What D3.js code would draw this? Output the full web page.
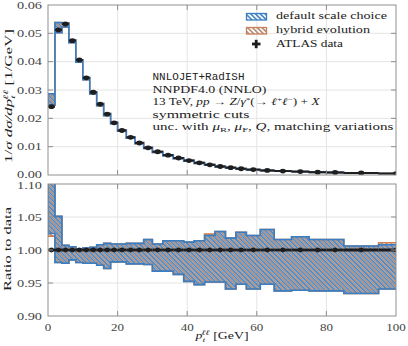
<!DOCTYPE html>
<html>
<head>
<meta charset="utf-8">
<script src="https://cdn.jsdelivr.net/npm/d3@7"></script>
<style>
  body { margin: 0; background: #fff; }
  svg { display: block; }
</style>
</head>
<body>
<svg id="chart"></svg>
<script>
// pT bins (GeV), ATLAS 13 TeV binning
const binLo = [0, 2, 4, 6, 8, 10, 12, 14, 16, 18, 20, 22.5, 25, 27.5, 30, 33, 36, 39, 42, 45, 48, 51, 54, 57, 61, 65, 70, 75, 80, 85, 95];
const binHi = [2, 4, 6, 8, 10, 12, 14, 16, 18, 20, 22.5, 25, 27.5, 30, 33, 36, 39, 42, 45, 48, 51, 54, 57, 61, 65, 70, 75, 80, 85, 95, 105];

// normalised ATLAS data, 1/sigma dsigma/dpT
const atlasData = [0.0241, 0.0512, 0.0533, 0.0474, 0.0406, 0.0343, 0.0292, 0.0250, 0.0215, 0.0184,
  0.0157, 0.0133, 0.0113, 0.0096, 0.0082, 0.0070, 0.0060, 0.0051, 0.0043, 0.0036,
  0.0030, 0.0026, 0.0022, 0.0019, 0.0016, 0.0014, 0.0012, 0.0010, 0.0009, 0.0007, 0.0005];

// ratio to data: default scale choice band
const scaleUp = [1.19, 1.051, 1.007, 1.005, 1.002, 1.003, 1.004, 1.008, 1.010, 1.009,
  1.009, 1.010, 1.010, 1.016, 1.009, 1.014, 1.014, 1.012, 1.014, 1.022,
  1.028, 1.018, 1.027, 1.022, 1.031, 1.016, 1.020, 1.016, 1.016, 1.006, 1.008];
const scaleDown = [1.025, 0.981, 0.980, 0.985, 0.981, 0.980, 0.980, 0.977, 0.972, 0.982,
  0.982, 0.979, 0.979, 0.978, 0.968, 0.968, 0.963, 0.9525, 0.9475, 0.9515,
  0.9515, 0.941, 0.948, 0.941, 0.948, 0.938, 0.939, 0.938, 0.938, 0.934, 0.941];

// ratio to data: hybrid evolution band
const hybridUp = [1.19, 1.051, 1.007, 1.005, 1.002, 1.003, 1.004, 1.008, 1.010, 1.009,
  1.009, 1.010, 1.010, 1.016, 1.009, 1.014, 1.014, 1.012, 1.014, 1.024,
  1.028, 1.018, 1.027, 1.022, 1.031, 1.016, 1.020, 1.016, 1.016, 1.006, 1.011];
const hybridDown = [1.021, 0.981, 0.980, 0.985, 0.981, 0.980, 0.980, 0.977, 0.972, 0.982,
  0.982, 0.979, 0.979, 0.978, 0.968, 0.968, 0.963, 0.9525, 0.9475, 0.9515,
  0.9515, 0.941, 0.948, 0.941, 0.948, 0.938, 0.939, 0.938, 0.938, 0.934, 0.941];

const xTicks = [0, 20, 40, 60, 80, 100];
const yTicksTop = [0, 0.01, 0.02, 0.03, 0.04, 0.05, 0.06];
const yTicksRatio = [0.90, 0.95, 1.00, 1.05, 1.10];

const width = 408, height = 346;
const blue = "#3a7dc0", orange = "#c98058", frameCol = "#8f8f8f", gridCol = "#e4e4e4";
const serif = "Liberation Serif";

const svg = d3.select("#chart").attr("width", width).attr("height", height);

const x = d3.scaleLinear().domain([0, 100]).range([48, 396]);
const yTop = d3.scaleLinear().domain([0, 0.06]).range([175, 5]);
const yRat = d3.scaleLinear().domain([0.90, 1.10]).range([316, 184]);

const defs = svg.append("defs");

function hatch(id, color, off, w) {
  const p = defs.append("pattern")
    .attr("id", id)
    .attr("patternUnits", "userSpaceOnUse")
    .attr("width", 3.4).attr("height", 3.4)
    .attr("patternTransform", "rotate(-45)");
  p.append("line")
    .attr("x1", off).attr("x2", off).attr("y1", 0).attr("y2", 3.4)
    .attr("stroke", color).attr("stroke-width", w);
}
hatch("hatchBlue", "#4f8bc6", 0.85, 1.75);
hatch("hatchOrange", "#b9917c", 2.55, 1.75);

function clip(id, yScale) {
  defs.append("clipPath").attr("id", id)
    .append("rect")
    .attr("x", x(0)).attr("y", yScale.range()[1])
    .attr("width", x(100) - x(0))
    .attr("height", yScale.range()[0] - yScale.range()[1]);
}
clip("clipTop", yTop);
clip("clipRat", yRat);

// text with optional italic/sub/sup pieces
function richText(g, px, py, parts, o) {
  const t = g.append("text")
    .attr("x", px).attr("y", py)
    .attr("font-family", o.family || serif)
    .attr("font-size", o.size || 10)
    .attr("fill", o.fill || "#222")
    .attr("text-anchor", o.anchor || "start");
  parts.forEach(p => {
    const s = t.append("tspan").text(p.t);
    if (p.it) s.attr("font-style", "italic");
    if (p.fs) s.attr("font-size", p.fs);
    if (p.dx) s.attr("dx", p.dx);
    if (p.dy) s.attr("dy", p.dy);
  });
  if (o.len) t.attr("textLength", o.len).attr("lengthAdjust", "spacingAndGlyphs");
  return t;
}

// shift keeps "0.00" and "1.10" apart where the panels meet
function drawPanel(yScale, yTicks, fmt, shift) {
  const g = svg.append("g");
  // grid
  g.selectAll(".gx").data(xTicks.slice(1, -1)).enter().append("line")
    .attr("x1", d => x(d)).attr("x2", d => x(d))
    .attr("y1", yScale.range()[1]).attr("y2", yScale.range()[0])
    .attr("stroke", gridCol).attr("stroke-width", 1);
  g.selectAll(".gy").data(yTicks.slice(1, -1)).enter().append("line")
    .attr("x1", x(0)).attr("x2", x(100))
    .attr("y1", d => yScale(d)).attr("y2", d => yScale(d))
    .attr("stroke", gridCol).attr("stroke-width", 1);
  // y tick labels
  yTicks.forEach(t => {
    richText(g, 42, yScale(t) + 3.5 + shift(t), [{ t: fmt(t) }], { anchor: "end", fill: "#444", size: 10, len: 25 });
  });
  return g;
}

const gTop = drawPanel(yTop, yTicksTop, d3.format(".2f"), t => (t === 0 ? -1 : 0));
const gRat = drawPanel(yRat, yTicksRatio, d3.format(".2f"), t => (t === 1.10 ? 1.5 : 0));

// step band points
function stepPoints(lo, hi, base) {
  const pts = [];
  binLo.forEach((e, i) => {
    const v = base ? base[i] : 1;
    pts.push({ x: e, lo: lo[i] * v, hi: hi[i] * v });
    pts.push({ x: binHi[i], lo: lo[i] * v, hi: hi[i] * v });
  });
  return pts;
}

function drawBands(g, yScale, clipId, base) {
  const area = d3.area()
    .x(d => x(d.x))
    .y0(d => yScale(d.lo))
    .y1(d => yScale(d.hi));
  const c = g.append("g").attr("clip-path", `url(#${clipId})`);
  c.append("path").datum(stepPoints(hybridDown, hybridUp, base))
    .attr("d", area)
    .attr("fill", "url(#hatchOrange)")
    .attr("stroke", orange).attr("stroke-width", 1.6);
  c.append("path").datum(stepPoints(scaleDown, scaleUp, base))
    .attr("d", area)
    .attr("fill", "url(#hatchBlue)")
    .attr("stroke", blue).attr("stroke-width", 1.6);
  return c;
}

const cTop = drawBands(gTop, yTop, "clipTop", atlasData);
const cRat = drawBands(gRat, yRat, "clipRat", null);

// data markers
const mid = binLo.map((e, i) => (e + binHi[i]) / 2);
cTop.selectAll(".hbar").data(atlasData).enter().append("line")
  .attr("x1", (d, i) => x(binLo[i])).attr("x2", (d, i) => x(binHi[i]))
  .attr("y1", d => yTop(d)).attr("y2", d => yTop(d))
  .attr("stroke", "#1e1e1e").attr("stroke-width", 2);
cTop.selectAll(".dot").data(atlasData).enter().append("ellipse")
  .attr("cx", (d, i) => x(mid[i])).attr("cy", d => yTop(d))
  .attr("rx", 3).attr("ry", 2.4)
  .attr("fill", "#1e1e1e");

cRat.selectAll(".hbar").data(atlasData).enter().append("line")
  .attr("x1", (d, i) => x(binLo[i])).attr("x2", (d, i) => x(binHi[i]))
  .attr("y1", yRat(1)).attr("y2", yRat(1))
  .attr("stroke", "#1e1e1e").attr("stroke-width", 2.8);
cRat.selectAll(".dot").data(atlasData).enter().append("circle")
  .attr("cx", (d, i) => x(mid[i])).attr("cy", yRat(1))
  .attr("r", 2.4)
  .attr("fill", "#1e1e1e");

// frames and inward ticks
function frame(yScale, yTicks) {
  const y0 = yScale.range()[0], y1 = yScale.range()[1];
  const g = svg.append("g").attr("stroke", frameCol).attr("stroke-width", 1).attr("fill", "none");
  g.append("rect").attr("x", x(0)).attr("y", y1).attr("width", x(100) - x(0)).attr("height", y0 - y1);
  xTicks.slice(1, -1).forEach(t => {
    g.append("line").attr("x1", x(t)).attr("x2", x(t)).attr("y1", y0).attr("y2", y0 - 5);
    g.append("line").attr("x1", x(t)).attr("x2", x(t)).attr("y1", y1).attr("y2", y1 + 5);
  });
  yTicks.slice(1, -1).forEach(t => {
    g.append("line").attr("x1", x(0)).attr("x2", x(0) + 5).attr("y1", yScale(t)).attr("y2", yScale(t));
    g.append("line").attr("x1", x(100)).attr("x2", x(100) - 5).attr("y1", yScale(t)).attr("y2", yScale(t));
  });
}
frame(yTop, yTicksTop);
frame(yRat, yTicksRatio);

// x tick labels
xTicks.forEach(t => {
  const s = String(t);
  richText(svg, x(t), 331, [{ t: s }], { anchor: "middle", fill: "#444", size: 10, len: s.length * 6.5 });
});

// axis titles
richText(svg, 222, 339, [
  { t: "p", it: true },
  { t: "t", it: true, fs: 7, dy: 2.5 },
  { t: "ℓℓ", it: true, fs: 7, dx: -2.4, dy: -7 },
  { t: "  [GeV]", dy: 4.5 }
], { anchor: "middle", len: 53 });

const yl1 = svg.append("g").attr("transform", "translate(12,96) rotate(-90)");
richText(yl1, 0, 0, [
  { t: "1/" }, { t: "σ", it: true }, { t: " d" , it: true }, { t: "σ", it: true }, { t: "/d", it: true },
  { t: "p", it: true },
  { t: "t", it: true, fs: 7, dy: 2.5 },
  { t: "ℓℓ", it: true, fs: 7, dx: -2.4, dy: -7 },
  { t: " [1/GeV]", dy: 4.5 }
], { anchor: "middle", len: 134 });

const yl2 = svg.append("g").attr("transform", "translate(11,249) rotate(-90)");
richText(yl2, 0, 0, [{ t: "Ratio to data" }], { anchor: "middle", len: 84 });

// info block
richText(svg, 152.5, 80, [{ t: "NNLOJET+RadISH" }], { family: "Liberation Mono", size: 11, len: 92 });
richText(svg, 152.5, 92.5, [{ t: "NNPDF4.0 (NNLO)" }], { len: 114 });
richText(svg, 152.5, 105, [
  { t: "13 TeV, " }, { t: "pp", it: true }, { t: " → " }, { t: "Z", it: true }, { t: "/" }, { t: "γ", it: true },
  { t: "*", fs: 7, dy: -3.5 }, { t: "(→ ", dy: 3.5 }, { t: "ℓ", it: true }, { t: "+", fs: 7, dy: -3.5 },
  { t: "ℓ", it: true, dy: 3.5 }, { t: "−", fs: 7, dy: -3.5 }, { t: ") + ", dy: 3.5 }, { t: "X", it: true }
], { len: 167 });
richText(svg, 152.5, 117.5, [{ t: "symmetric cuts" }], { len: 97 });
richText(svg, 152.5, 130, [
  { t: "unc. with " }, { t: "μ", it: true }, { t: "R", fs: 7, dy: 2 }, { t: ", ", dy: -2 },
  { t: "μ", it: true }, { t: "F", fs: 7, dy: 2 }, { t: ", ", dy: -2 }, { t: "Q", it: true },
  { t: ", matching variations" }
], { len: 241 });

// legend
const leg = svg.append("g");
leg.append("rect").attr("x", 246.5).attr("y", 13.5).attr("width", 20).attr("height", 6.5)
  .attr("fill", "url(#hatchBlue)").attr("stroke", blue).attr("stroke-width", 1.3);
leg.append("rect").attr("x", 246.5).attr("y", 27.5).attr("width", 20).attr("height", 6.5)
  .attr("fill", "url(#hatchOrange)").attr("stroke", orange).attr("stroke-width", 1.3);
leg.append("line").attr("x1", 252).attr("x2", 260.5).attr("y1", 44).attr("y2", 44)
  .attr("stroke", "#1e1e1e").attr("stroke-width", 2.8);
leg.append("line").attr("x1", 256.2).attr("x2", 256.2).attr("y1", 39.8).attr("y2", 48.2)
  .attr("stroke", "#1e1e1e").attr("stroke-width", 2.8);
richText(leg, 276, 19, [{ t: "default scale choice" }], { len: 111 });
richText(leg, 276, 33, [{ t: "hybrid evolution" }], { len: 94 });
richText(leg, 276, 47, [{ t: "ATLAS data" }], { len: 67 });
</script>
</body>
</html>
